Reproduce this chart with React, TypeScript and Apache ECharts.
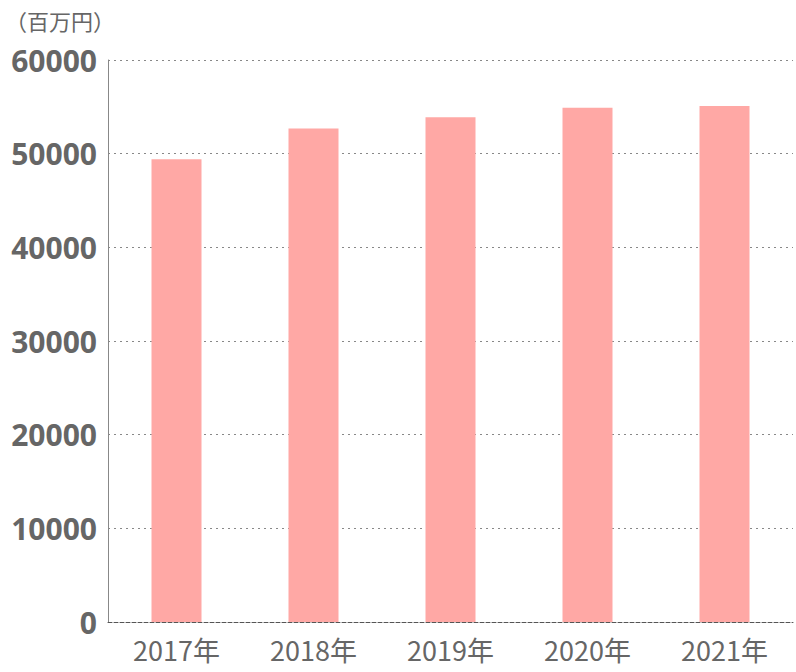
import React, { useEffect, useRef } from "react";
import * as echarts from "echarts";

const categories = ["2017年", "2018年", "2019年", "2020年", "2021年"];
const values = [49400, 52700, 53900, 54900, 55100];
const unitLabel = "（百万円）";

export default function App() {
  const ref = useRef<HTMLDivElement>(null);
  useEffect(() => {
    if (!ref.current) return;
    const chart = echarts.init(ref.current, null, { renderer: "svg" });
    chart.setOption({
      animation: false,
      title: {
        text: unitLabel,
        left: 0,
        top: 4,
        textStyle: { fontSize: 22, color: "#666", fontWeight: "normal", fontFamily: "Noto Sans CJK JP" },
      },
      grid: { left: 108, right: 3, top: 60, bottom: 50, containLabel: false },
      xAxis: {
        type: "category",
        data: categories,
        axisTick: { show: false },
        axisLine: { show: true, lineStyle: { color: "#555", type: [4, 2], width: 1 } },
        axisLabel: {
          color: "#666",
          fontSize: 27,
          lineHeight: 27,
          margin: 14,
          fontFamily: "Noto Sans CJK JP",
        },
      },
      yAxis: {
        type: "value",
        min: 0,
        max: 60000,
        interval: 10000,
        axisLine: { show: true, lineStyle: { color: "#888", width: 1 } },
        axisTick: { show: false },
        splitLine: { show: true, lineStyle: { color: "#888", type: [2, 4], width: 1 } },
        axisLabel: {
          color: "#666",
          fontSize: 30,
          fontWeight: "bold",
          margin: 11,
          fontFamily: "Open Sans",
          formatter: (v: number) => String(v),
        },
      },
      series: [
        {
          type: "bar",
          data: values,
          barWidth: 50,
          itemStyle: { color: "#ffa8a5" },
        },
      ],
    });
    return () => chart.dispose();
  }, []);
  return (
    <div
      ref={ref}
      style={{ position: "fixed", left: 0, top: 0, width: 796, height: 672, background: "#fff" }}
    />
  );
}
